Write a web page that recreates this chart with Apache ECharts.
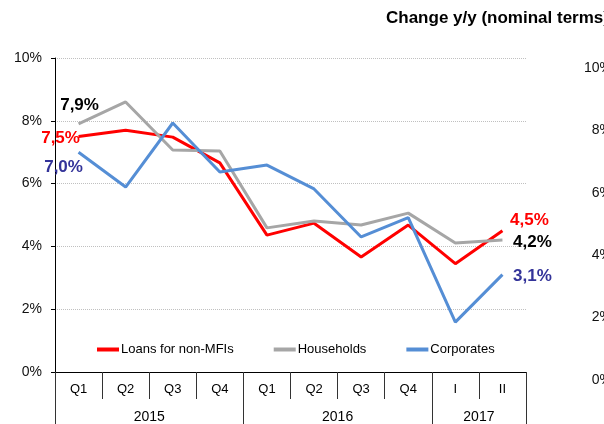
<!DOCTYPE html>
<html>
<head>
<meta charset="utf-8">
<script src="https://cdn.jsdelivr.net/npm/echarts@6/dist/echarts.min.js"></script>
<style>
  html, body { margin: 0; padding: 0; background: #fff; }
  #chart { width: 604px; height: 424px; }
</style>
</head>
<body>
<div id="chart"></div>
<script>
  const quarters = ['Q1', 'Q2', 'Q3', 'Q4', 'Q1', 'Q2', 'Q3', 'Q4', 'I', 'II'];
  const years = ['2015', '2016', '2017'];
  const yearSpans = [4, 4, 2];

  const loans = [7.5, 7.7, 7.48, 6.66, 4.36, 4.74, 3.66, 4.68, 3.45, 4.5];
  const households = [7.9, 8.6, 7.07, 7.04, 4.59, 4.81, 4.68, 5.06, 4.11, 4.2];
  const corporates = [7.0, 5.89, 7.93, 6.37, 6.59, 5.83, 4.3, 4.92, 1.59, 3.1];

  const font = '"Liberation Sans", Arial, sans-serif';

  // year separators and label centres from the spans
  const yearBounds = [0];
  yearSpans.forEach(s => yearBounds.push(yearBounds[yearBounds.length - 1] + s));
  const yearCenters = years.map((y, i) => (yearBounds[i] + yearBounds[i + 1]) / 2);

  function fmt(v) { return v.toFixed(1).replace('.', ',') + '%'; }

  // put a value label on the first and last point of a series
  function withLabels(values, color, firstOffset, lastOffset) {
    return values.map((v, i) => {
      if (i !== 0 && i !== values.length - 1) return v;
      return {
        value: v,
        label: {
          show: true, position: 'inside', formatter: fmt(v),
          offset: i === 0 ? firstOffset : lastOffset,
          color: color, fontSize: 17, fontWeight: 'bold', fontFamily: font
        }
      };
    });
  }

  function lineSeries(name, values, color, labelColor, firstOffset, lastOffset) {
    return {
      name: name, type: 'line', xAxisIndex: 0, yAxisIndex: 0,
      data: withLabels(values, labelColor, firstOffset, lastOffset),
      symbol: 'circle', symbolSize: 0, showSymbol: true,
      lineStyle: { color: color, width: 3 },
      itemStyle: { color: color },
      animation: false
    };
  }

  const chart = echarts.init(document.getElementById('chart'));
  chart.setOption({
    backgroundColor: '#fff',
    animation: false,
    title: {
      text: 'Change y/y (nominal terms)', left: 381, top: 5,
      textStyle: { fontFamily: font, fontSize: 17, fontWeight: 'bold', color: '#000' }
    },
    legend: {
      left: 92, top: 338, itemGap: 40, itemWidth: 22, itemHeight: 4, icon: 'rect',
      textStyle: { fontFamily: font, fontSize: 13, color: '#000', padding: [0, 0, 0, -3] },
      data: ['Loans for non-MFIs', 'Households', 'Corporates']
    },
    grid: [
      { left: 55, right: 78, top: 58, bottom: 52 },
      { left: 620, width: 20, top: 68, bottom: 44 }
    ],
    xAxis: [
      {
        type: 'category', gridIndex: 0, data: quarters, boundaryGap: true,
        axisLine: { lineStyle: { color: '#000', width: 1 } },
        axisTick: { show: true, interval: 0, length: 27, lineStyle: { color: '#333' } },
        axisLabel: { interval: 0, margin: 11, fontFamily: font, fontSize: 13, color: '#000' }
      },
      {
        type: 'value', gridIndex: 0, position: 'bottom', min: 0, max: quarters.length,
        axisLine: { show: false },
        splitLine: { show: false },
        axisTick: { show: true, customValues: yearBounds, length: 52, lineStyle: { color: '#333' } },
        axisLabel: {
          customValues: yearCenters, margin: 38, fontFamily: font, fontSize: 14, color: '#000',
          formatter: v => years[yearCenters.indexOf(v)] || ''
        }
      },
      { type: 'value', gridIndex: 1, show: false }
    ],
    yAxis: [
      {
        type: 'value', gridIndex: 0, min: 0, max: 10, interval: 2,
        axisLine: { show: true, lineStyle: { color: '#000' } },
        axisTick: { show: true, length: 4, lineStyle: { color: '#000' } },
        axisLabel: { margin: 13, fontFamily: font, fontSize: 14, color: '#111', formatter: '{value}%' },
        splitLine: { show: true, lineStyle: { color: '#c0c0c0', type: 'dotted', width: 1 } }
      },
      {
        type: 'value', gridIndex: 1, min: 0, max: 10, interval: 2,
        axisLine: { show: false }, axisTick: { show: false }, splitLine: { show: false },
        axisLabel: { margin: 8, fontFamily: font, fontSize: 14, color: '#111', formatter: '{value}%' }
      }
    ],
    series: [
      lineSeries('Loans for non-MFIs', loans, '#ff0000', '#ff0000', [-18, 2], [27, -10]),
      lineSeries('Households', households, '#a6a6a6', '#000000', [1, -19], [30, 2]),
      lineSeries('Corporates', corporates, '#558ed5', '#333399', [-15, 15], [30, 2])
    ]
  });
</script>
</body>
</html>
